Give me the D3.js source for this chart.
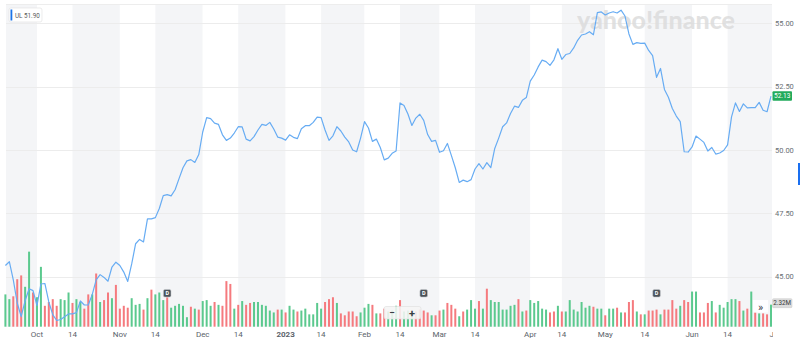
<!DOCTYPE html>
<html>
<head>
<meta charset="utf-8">
<script src="https://cdn.jsdelivr.net/npm/d3@7"></script>
<style>
  html, body { margin: 0; padding: 0; background: #fff; }
  svg { display: block; font-family: Roboto, "Helvetica Neue", Arial, sans-serif; }
</style>
</head>
<body>
<svg id="chart" width="800" height="344"></svg>
<script>
// ---- data -------------------------------------------------------------
const symbol = "UL";
const legendValue = "51.90";
const firstSession = "2022-09-21";
const axisEndSession = "2023-07-03";
const marketHolidays = ["2022-11-24", "2022-12-26", "2023-01-02", "2023-01-16",
  "2023-02-20", "2023-04-07", "2023-05-29", "2023-06-19"];

// daily closes, one per session
const closes = [
  45.44, 45.59, 44.87, 43.96, 43.42, 44.05, 44.52, 44.45, 43.86, 44.71,
  44.73, 44.00, 43.50, 43.27, 43.31, 43.42, 43.53, 43.53, 43.58, 44.04,
  43.88, 43.88, 44.29, 44.87, 45.08, 44.97, 44.82, 45.38, 45.57, 45.44,
  45.18, 44.81, 45.50, 46.30, 46.47, 46.37, 47.28, 47.28, 47.33, 47.69,
  48.20, 48.24, 48.19, 48.43, 48.87, 49.30, 49.57, 49.62, 49.51, 49.82,
  50.71, 51.28, 51.24, 51.06, 51.01, 50.60, 50.38, 50.47, 50.67, 50.92,
  50.91, 50.43, 50.36, 50.53, 50.79, 51.01, 50.97, 51.09, 50.83, 50.51,
  50.47, 50.39, 50.60, 50.50, 50.45, 50.84, 50.96, 50.96, 51.09, 51.30,
  51.28, 50.79, 50.38, 50.56, 50.92, 50.75, 50.51, 50.32, 50.00, 49.93,
  50.47, 51.12, 50.87, 50.34, 50.43, 50.10, 49.61, 49.68, 49.87, 49.96,
  51.86, 51.76, 51.42, 50.97, 51.26, 51.41, 51.17, 50.61, 50.34, 50.38,
  49.91, 49.97, 50.26, 49.79, 49.30, 48.72, 48.81, 48.75, 48.83, 49.25,
  49.46, 49.25, 49.50, 49.30, 50.06, 50.47, 50.92, 51.07, 51.44, 51.73,
  51.68, 51.96, 52.07, 52.72, 52.96, 53.28, 53.55, 53.49, 53.34, 53.56,
  54.00, 53.58, 53.77, 53.81, 54.03, 54.33, 54.54, 54.58, 54.67, 54.55,
  55.42, 55.45, 55.33, 55.41, 55.46, 55.41, 55.52, 55.29, 54.58, 54.17,
  54.24, 54.21, 54.22, 53.93, 53.73, 52.87, 53.22, 52.39, 52.08, 51.64,
  51.34, 51.12, 49.93, 49.92, 50.12, 50.55, 50.43, 50.30, 49.96, 50.10,
  49.84, 49.88, 49.98, 50.20, 51.31, 51.86, 51.52, 51.82, 51.66, 51.67,
  51.67, 51.88, 51.57, 51.51, 52.13
];

// daily volume, millions of shares
const volumes = [
  3.4, 2.9, 3.2, 5.0, 5.4, 4.2, 7.9, 3.6, 3.1, 6.3,
  2.2, 2.6, 2.9, 2.2, 2.9, 2.8, 3.6, 2.5, 2.9, 2.6,
  1.9, 3.4, 3.4, 5.6, 2.6, 2.8, 3.6, 3.0, 4.4, 1.9,
  2.2, 2.0, 3.0, 2.3, 2.4, 1.8, 3.0, 3.9, 3.4, 3.6,
  2.8, 3.1, 2.0, 2.2, 2.4, 2.2, 1.0, 2.1, 1.9, 1.8,
  2.7, 2.8, 2.2, 2.6, 2.3, 2.2, 4.8, 4.5, 1.9, 2.3,
  2.7, 2.3, 2.5, 2.6, 2.6, 2.3, 2.2, 1.7, 1.5, 1.8,
  1.8, 1.5, 2.2, 1.8, 1.6, 1.7, 1.9, 1.3, 1.3, 2.5,
  1.9, 2.6, 2.9, 3.1, 2.5, 1.4, 1.2, 1.6, 1.6, 1.1,
  1.5, 2.0, 2.4, 2.3, 1.4, 1.4, 1.9, 1.6, 1.7, 2.2,
  2.8, 1.6, 1.7, 1.6, 1.6, 1.8, 1.7, 1.5, 1.2, 1.2,
  1.7, 1.8, 2.5, 2.3, 1.9, 1.1, 1.6, 1.8, 2.8, 1.9,
  2.7, 1.9, 4.0, 2.8, 2.6, 2.6, 1.8, 1.8, 2.2, 2.3,
  2.9, 1.6, 1.7, 2.8, 2.5, 2.7, 1.9, 1.8, 1.5, 1.6,
  2.2, 1.6, 1.6, 2.8, 1.8, 1.6, 2.6, 2.0, 2.2, 2.1,
  1.9, 1.9, 1.2, 1.9, 1.9, 2.0, 1.5, 1.5, 2.6, 2.8,
  1.6, 1.3, 1.3, 1.7, 1.7, 1.8, 1.3, 1.8, 1.8, 2.8,
  1.9, 2.2, 2.8, 2.6, 3.7, 3.7, 1.5, 1.5, 2.5, 2.7,
  1.5, 2.3, 2.0, 2.6, 2.9, 2.9, 2.7, 1.7, 1.9, 3.7,
  1.5, 1.4, 1.4, 1.3, 2.32
];

// 1 = up session (green volume bar), 0 = down session (red)
const volumeUp = [
  1, 1, 0, 0, 0, 1, 1, 0, 1, 1,
  0, 0, 0, 0, 1, 1, 1, 0, 1, 1,
  0, 0, 1, 0, 1, 0, 0, 1, 0, 0,
  0, 0, 1, 1, 1, 0, 1, 0, 1, 1,
  1, 0, 1, 1, 1, 1, 1, 0, 1, 0,
  1, 1, 1, 0, 1, 0, 0, 0, 1, 0,
  1, 0, 0, 1, 1, 1, 1, 1, 1, 0,
  1, 0, 1, 1, 0, 1, 1, 1, 1, 1,
  1, 0, 0, 0, 1, 0, 0, 0, 0, 0,
  1, 1, 1, 0, 1, 0, 0, 1, 1, 1,
  0, 1, 1, 1, 0, 0, 0, 0, 1, 0,
  0, 1, 0, 0, 0, 1, 0, 1, 1, 1,
  0, 1, 0, 1, 1, 1, 1, 1, 1, 1,
  0, 1, 0, 1, 1, 1, 1, 1, 0, 0,
  1, 0, 1, 1, 1, 1, 1, 1, 1, 0,
  1, 1, 0, 1, 1, 0, 1, 0, 0, 0,
  1, 0, 1, 0, 0, 0, 1, 0, 0, 0,
  0, 1, 0, 0, 1, 1, 0, 0, 0, 1,
  0, 1, 1, 1, 1, 1, 0, 1, 0, 1,
  0, 1, 0, 0, 1
];

const dividendDates = ["2022-11-17", "2023-02-23", "2023-05-18"];
const priceTicks = [45, 47.5, 50, 52.5, 55];
const lastVolumeLabel = "2.32M";

// ---- layout -----------------------------------------------------------
const plot = { left: 6, right: 772, top: 5, bottom: 327 };
const C = {
  band: "#f4f5f7", grid: "#ececec", line: "#67acf3",
  up: "#5bc98e", down: "#f57a7e", axisText: "#5b636a"
};

const parse = d3.utcParse("%Y-%m-%d");
const fmt = d3.utcFormat("%Y-%m-%d");
const holidaySet = new Set(marketHolidays);
const sessions = d3.utcDay
  .range(parse(firstSession), d3.utcDay.offset(parse(axisEndSession), 1))
  .filter(d => d.getUTCDay() % 6 !== 0 && !holidaySet.has(fmt(d)));
const sessionIndex = new Map(sessions.map((d, i) => [fmt(d), i]));

const x = d3.scaleLinear().domain([0, closes.length - 1]).range([5.4, 771]);
const y = d3.scaleLinear().domain([45, 55]).range([276.65, 23.35]);
const yVol = d3.scaleLinear().domain([0, 8]).range([326.7, 250.7]);

// axis ticks: first session of each month and first session on/after the 14th
const ticks = [];
sessions.forEach((d, i) => {
  if (i === 0) return;
  const p = sessions[i - 1];
  if (d.getUTCMonth() !== p.getUTCMonth()) {
    const jan = d.getUTCMonth() === 0;
    ticks.push({ i, kind: jan ? "year" : "month",
      label: jan ? String(d.getUTCFullYear()) : d3.utcFormat("%b")(d) });
  } else if (d.getUTCDate() >= 14 && p.getUTCDate() < 14) {
    ticks.push({ i, kind: "mid", label: "14" });
  }
});

const svg = d3.select("#chart");
const defs = svg.append("defs");
defs.append("clipPath").attr("id", "plotClip")
  .append("rect").attr("x", plot.left).attr("y", 0)
  .attr("width", plot.right - plot.left + 1).attr("height", 344);

// alternating half-month bands
const bounds = [plot.left, ...ticks.map(t => x(t.i)), plot.right];
const bands = [];
for (let k = 0; k < bounds.length - 1; k++) {
  const x0 = Math.max(bounds[k], plot.left), x1 = Math.min(bounds[k + 1], plot.right);
  if (x1 <= x0) continue;
  const gray = k === 0 || ticks[k - 1].kind === "mid";
  bands.push({ x0, x1, gray });
}
svg.append("g").selectAll("rect").data(bands).join("rect")
  .attr("x", d => d.x0).attr("y", plot.top)
  .attr("width", d => d.x1 - d.x0).attr("height", plot.bottom - plot.top)
  .attr("fill", d => d.gray ? C.band : "#ffffff");

// top rule
svg.append("line").attr("x1", plot.left).attr("x2", plot.right)
  .attr("y1", 4.5).attr("y2", 4.5).attr("stroke", "#ededed");

// horizontal grid
svg.append("g").selectAll("line").data(priceTicks).join("line")
  .attr("x1", plot.left).attr("x2", plot.right)
  .attr("y1", d => Math.round(y(d)) + 0.5).attr("y2", d => Math.round(y(d)) + 0.5)
  .attr("stroke", C.grid).attr("stroke-width", 1);

// watermark
svg.append("text")
  .attr("x", 577).attr("y", 29)
  .attr("textLength", 158).attr("lengthAdjust", "spacingAndGlyphs")
  .attr("font-size", 24).attr("font-weight", 900)
  .attr("font-family", "Lato, Roboto, sans-serif")
  .attr("fill", "#dcdcdc").attr("fill-opacity", 0.85)
  .text("yahoo!finance");

// volume bars
svg.append("g").selectAll("rect").data(volumes).join("rect")
  .attr("x", (d, i) => x(i) - 1).attr("width", 2)
  .attr("y", d => yVol(d)).attr("height", d => yVol(0) - yVol(d))
  .attr("fill", (d, i) => volumeUp[i] ? C.up : C.down);

// price line
const line = d3.line().x((d, i) => x(i)).y(d => y(d));
svg.append("path").datum(closes)
  .attr("d", line).attr("fill", "none")
  .attr("stroke", C.line).attr("stroke-width", 1.2)
  .attr("stroke-linejoin", "round");

// dividend markers
const divG = svg.append("g").selectAll("g")
  .data(dividendDates.map(s => sessionIndex.get(s))).join("g")
  .attr("transform", i => `translate(${x(i)},293.3)`);
divG.append("rect").attr("x", -3.8).attr("y", -3.8).attr("width", 7.6).attr("height", 7.6)
  .attr("rx", 1.5).attr("fill", "#4b5259").attr("stroke", "#c9ccd0").attr("stroke-width", 0.6);
divG.append("text").attr("text-anchor", "middle").attr("y", 2)
  .attr("font-size", 5.5).attr("font-weight", 700).attr("fill", "#ffffff").text("D");

// zoom control
const zc = svg.append("g");
zc.append("rect").attr("x", 384).attr("y", 306.5).attr("width", 37).attr("height", 12.5)
  .attr("rx", 2).attr("fill", "#f5f5f5").attr("fill-opacity", 0.88)
  .attr("stroke", "#dddddd").attr("stroke-width", 0.6);
zc.append("text").attr("x", 392).attr("y", 316).attr("text-anchor", "middle")
  .attr("font-size", 10).attr("font-weight", 700).attr("fill", "#3a3f44").text("\u2212");
zc.append("text").attr("x", 412).attr("y", 316.5).attr("text-anchor", "middle")
  .attr("font-size", 11).attr("font-weight", 700).attr("fill", "#3a3f44").text("+");

// collapse arrows
svg.append("rect").attr("x", 753).attr("y", 300).attr("width", 15).attr("height", 12.5)
  .attr("fill", "#ffffff").attr("fill-opacity", 0.9);
svg.append("text").attr("x", 760.5).attr("y", 310.5).attr("text-anchor", "middle")
  .attr("font-size", 11).attr("fill", "#3d4247").text("\u00bb");

// legend chip
svg.append("rect").attr("x", 9).attr("y", 8).attr("width", 33).attr("height", 14)
  .attr("rx", 2).attr("fill", "#ffffff").attr("stroke", "#e4e4e4").attr("stroke-width", 0.7);
svg.append("rect").attr("x", 10.5).attr("y", 9.5).attr("width", 1.8).attr("height", 11)
  .attr("fill", "#1a73e8");
svg.append("text").attr("x", 15).attr("y", 17.6).attr("font-size", 6.3)
  .attr("fill", "#5a5a5a").text(`${symbol} ${legendValue}`);

// right price axis labels
svg.append("g").selectAll("text").data(priceTicks).join("text")
  .attr("x", 775).attr("y", d => y(d) + 2.7)
  .attr("font-size", 7.5).attr("fill", "#6a6f74")
  .text(d => d3.format(".2f")(d));

// last price tag
const last = closes[closes.length - 1];
svg.append("rect").attr("x", 772.5).attr("y", y(last) - 4.8).attr("width", 19.5).attr("height", 9.6)
  .attr("rx", 1).attr("fill", "#22ab5c");
svg.append("text").attr("x", 782.2).attr("y", y(last) + 2.3).attr("text-anchor", "middle")
  .attr("font-size", 6.5).attr("fill", "#ffffff").text(d3.format(".2f")(last));

// last volume tag
const lastVol = volumes[volumes.length - 1];
svg.append("rect").attr("x", 772.5).attr("y", yVol(lastVol) - 6).attr("width", 19.5).attr("height", 9)
  .attr("rx", 1).attr("fill", "#dcdcdc").attr("stroke", "#c8c8c8").attr("stroke-width", 0.5);
svg.append("text").attr("x", 782.2).attr("y", yVol(lastVol) + 0.6).attr("text-anchor", "middle")
  .attr("font-size", 6.3).attr("fill", "#3a3a3a").text(lastVolumeLabel);

// side marker
svg.append("rect").attr("x", 798).attr("y", 163).attr("width", 2).attr("height", 22)
  .attr("fill", "#1a6ff0");

// bottom time axis labels
svg.append("g").attr("clip-path", "url(#plotClip)")
  .selectAll("text").data(ticks).join("text")
  .attr("x", t => x(t.i)).attr("y", 337)
  .attr("text-anchor", "middle").attr("font-size", 8)
  .attr("font-weight", t => t.kind === "year" ? 700 : 400)
  .attr("fill", C.axisText)
  .text(t => t.label);
</script>
</body>
</html>
